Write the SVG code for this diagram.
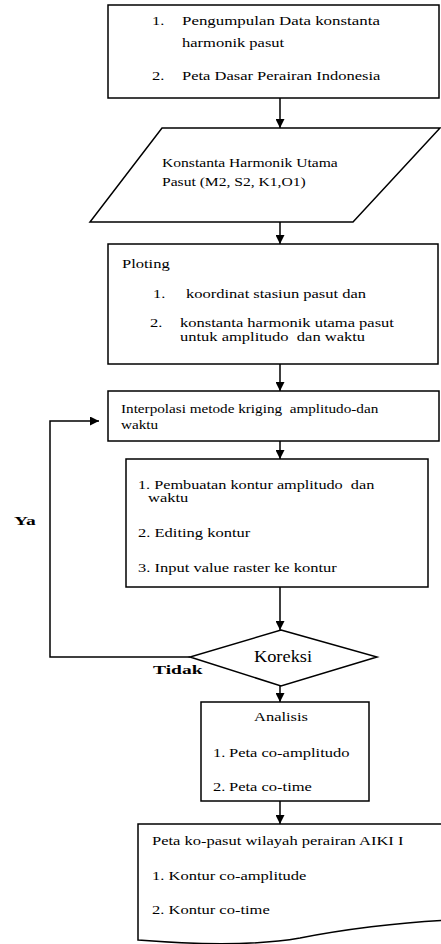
<svg xmlns="http://www.w3.org/2000/svg" width="441" height="944" viewBox="0 0 441 944">
<style>
.box{fill:#fff;stroke:#000;stroke-width:1.5}
.t{font-family:"Liberation Serif","Times New Roman",serif;font-size:13px;fill:#000}
.b{font-weight:bold}
.m{text-anchor:middle}
.conn{stroke:#000;stroke-width:1.5;fill:none;marker-end:url(#ah)}
</style>
<defs>
<marker id="ah" viewBox="0 0 10 10" refX="10" refY="5" markerWidth="10" markerHeight="9" markerUnits="userSpaceOnUse" orient="auto">
<path d="M0,0 L10,5 L0,10 z" fill="#000"/>
</marker>
</defs>
<rect width="441" height="944" fill="#fff"/>
<g id="connectors">
<line class="conn" x1="280" y1="98" x2="280" y2="128"/>
<line class="conn" x1="280" y1="222" x2="280" y2="244"/>
<line class="conn" x1="280" y1="364" x2="280" y2="391"/>
<line class="conn" x1="280" y1="441" x2="280" y2="459"/>
<line class="conn" x1="280" y1="587" x2="280" y2="630"/>
<line class="conn" x1="280" y1="686" x2="280" y2="702"/>
<line class="conn" x1="280" y1="801" x2="280" y2="824"/>
<path class="conn" d="M190,657 H50 V421 H99"/>
</g>
<g id="lbl-ya"><text class="t b" transform="translate(14 525) scale(1.5 1)">Ya</text></g>
<g id="lbl-tidak"><text class="t b" transform="translate(153 674) scale(1.5 1)">Tidak</text></g>
<g id="n1">
<rect class="box" x="108" y="5" width="331" height="93"/>
<text class="t" transform="translate(152 25) scale(1.27 1)">1.</text>
<text class="t" transform="translate(182 25) scale(1.3 1)">Pengumpulan Data konstanta</text>
<text class="t" transform="translate(182 47) scale(1.27 1)">harmonik pasut</text>
<text class="t" transform="translate(152 80) scale(1.27 1)">2.</text>
<text class="t" transform="translate(182 80) scale(1.27 1)">Peta Dasar Perairan Indonesia</text>
</g>
<g id="n2">
<polygon class="box" points="162,128 440,128 353,222 90,222"/>
<text class="t" transform="translate(162 167) scale(1.2 1)">Konstanta Harmonik Utama</text>
<text class="t" transform="translate(162 186) scale(1.2 1)">Pasut (M2, S2, K1,O1)</text>
</g>
<g id="n3">
<rect class="box" x="108" y="244" width="330" height="120"/>
<text class="t" transform="translate(122 268) scale(1.27 1)">Ploting</text>
<text class="t" transform="translate(153 298) scale(1.27 1)">1.</text>
<text class="t" transform="translate(186 298) scale(1.27 1)">koordinat stasiun pasut dan</text>
<text class="t" transform="translate(150 327) scale(1.27 1)">2.</text>
<text class="t" transform="translate(180 327) scale(1.27 1)">konstanta harmonik utama pasut</text>
<text class="t" transform="translate(180 341) scale(1.27 1)" xml:space="preserve">untuk amplitudo  dan waktu</text>
</g>
<g id="n4">
<rect class="box" x="108" y="391" width="331" height="50"/>
<text class="t" transform="translate(121 413) scale(1.17 1)" xml:space="preserve">Interpolasi metode kriging  amplitudo-dan</text>
<text class="t" transform="translate(121 429) scale(1.17 1)">waktu</text>
</g>
<g id="n5">
<rect class="box" x="126" y="459" width="302" height="128"/>
<text class="t" transform="translate(138 489) scale(1.25 1)" xml:space="preserve">1. Pembuatan kontur amplitudo  dan</text>
<text class="t" transform="translate(148 502) scale(1.27 1)">waktu</text>
<text class="t" transform="translate(138 537) scale(1.27 1)">2. Editing kontur</text>
<text class="t" transform="translate(138 572) scale(1.27 1)">3. Input value raster ke kontur</text>
</g>
<g id="n6">
<polygon class="box" points="281,630 377,657 281,686 190,657"/>
<text class="t m" style="font-size:16px" transform="translate(283 662) scale(1.15 1)">Koreksi</text>
</g>
<g id="n7">
<rect class="box" x="201" y="702" width="168" height="99"/>
<text class="t m" transform="translate(281 721) scale(1.27 1)">Analisis</text>
<text class="t" transform="translate(213 757) scale(1.27 1)">1.</text>
<text class="t" transform="translate(229 757) scale(1.27 1)">Peta co-amplitudo</text>
<text class="t" transform="translate(213 791) scale(1.27 1)">2.</text>
<text class="t" transform="translate(229 791) scale(1.27 1)">Peta co-time</text>
</g>
<g id="n8">
<path class="box" d="M138,940 V824 H450 V920 C400,922 340,930 300,938 C260,945 200,945 138,940 Z"/>
<text class="t" transform="translate(152 845) scale(1.27 1)">Peta ko-pasut wilayah perairan AIKI I</text>
<text class="t" transform="translate(152 880) scale(1.27 1)">1. Kontur co-amplitude</text>
<text class="t" transform="translate(152 914) scale(1.27 1)">2. Kontur co-time</text>
</g>
</svg>
